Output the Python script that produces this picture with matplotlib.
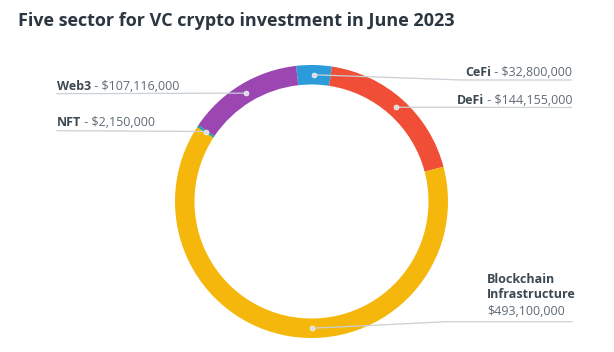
import numpy as np
import matplotlib
matplotlib.use("Agg")
import matplotlib.pyplot as plt

# ---- data ----
categories = ["CeFi", "DeFi", "Blockchain Infrastructure", "NFT", "Web3"]
values = [32800000, 144155000, 493100000, 2150000, 107116000]
value_labels = ["$32,800,000", "$144,155,000", "$493,100,000", "$2,150,000", "$107,116,000"]
colors = ["#2c9bda", "#f04e37", "#f5b70c", "#17a69e", "#9b46b1"]
title = "Five sector for VC crypto investment in June 2023"

W, H = 614, 352
fig = plt.figure(figsize=(W / 100, H / 100), dpi=100)
ax = fig.add_axes([0, 0, 1, 1])

def py(y):  # pixel-from-top to data y
    return H - y

cx, cy = 311.5, py(201.5)
R, ring = 136.5, 19.5
start = -6.5  # compass degrees (clockwise from top)

ax.pie(values, colors=colors, center=(cx, cy), radius=R, startangle=90 - start,
       counterclock=False, wedgeprops=dict(width=ring, linewidth=0))
ax.set_xlim(0, W)
ax.set_ylim(0, H)
ax.set_aspect("equal")
ax.axis("off")

# mid angles (compass) of each slice
tot = sum(values)
cum = np.cumsum([0] + values)
mids = [start + 360 * (cum[i] + cum[i + 1]) / 2 / tot for i in range(len(values))]
mids[2] = 180.0  # anchor placement for bottom label
rm = R - ring / 2
anchors = [(cx + rm * np.sin(np.radians(a)), cy + rm * np.cos(np.radians(a))) for a in mids]

line_c = "#c9d0d6"
name_c = "#3c4852"
val_c = "#5f6b75"
FONT = "Open Sans"
fs = 9

fig.text(18 / W, 1 - 21 / H, title, fontsize=13.0, fontweight="bold", color="#2b3640",
         family=FONT, va="center", ha="left")

fig.canvas.draw()
rend = fig.canvas.get_renderer()

def width_px(t):
    return t.get_window_extent(rend).width

# label layout: (side, text x, text y, underline y, knee x)
layout = {
    "CeFi": ("R", 572, 72.5, 80, 462),
    "DeFi": ("R", 572, 100, 107.5, None),
    "Blockchain Infrastructure": ("B", 487, 279.5, 321.7, 447),
    "NFT": ("L", 57, 123, 130.7, None),
    "Web3": ("L", 57, 86, 93.7, None),
}

for i, cat in enumerate(categories):
    side, tx, ty, uy, knee = layout[cat]
    ax_, ay_ = anchors[i]
    if side == "R":
        v = ax.text(tx, py(ty), " - " + value_labels[i], fontsize=fs, family=FONT, color=val_c,
                    ha="right", va="center")
        wv = width_px(v)
        ax.text(tx - wv, py(ty), cat, fontsize=fs, family=FONT, color=name_c,
                fontweight="bold", ha="right", va="center")
        xs = [ax_]
        ys = [ay_]
        if knee is not None:
            xs.append(knee); ys.append(py(uy))
        xs.append(tx); ys.append(py(uy))
        ax.plot(xs, ys, color=line_c, lw=0.9, solid_capstyle="butt", zorder=3)
    elif side == "L":
        n = ax.text(tx, py(ty), cat, fontsize=fs, family=FONT, color=name_c,
                    fontweight="bold", ha="left", va="center")
        wn = width_px(n)
        ax.text(tx + wn, py(ty), " - " + value_labels[i], fontsize=fs, family=FONT, color=val_c,
                ha="left", va="center")
        ax.plot([ax_, tx], [ay_, py(uy)], color=line_c, lw=0.9, zorder=3)
    else:
        words = cat.split(" ")
        ax.text(tx, py(ty), words[0], fontsize=fs, family=FONT, color=name_c,
                fontweight="bold", ha="left", va="center")
        ax.text(tx, py(ty + 15.5), words[1], fontsize=fs, family=FONT, color=name_c,
                fontweight="bold", ha="left", va="center")
        ax.text(tx, py(ty + 32), value_labels[i], fontsize=fs, family=FONT, color=val_c,
                ha="left", va="center")
        ax.plot([ax_, knee, 572], [ay_, py(uy), py(uy)], color=line_c, lw=0.9, zorder=3)
    ax.plot([ax_], [ay_], marker="o", ms=3.6, color="#d7dde2", mec="#ffffff", mew=0.4, zorder=4)

fig.savefig("out.png", dpi=100, facecolor="white")
